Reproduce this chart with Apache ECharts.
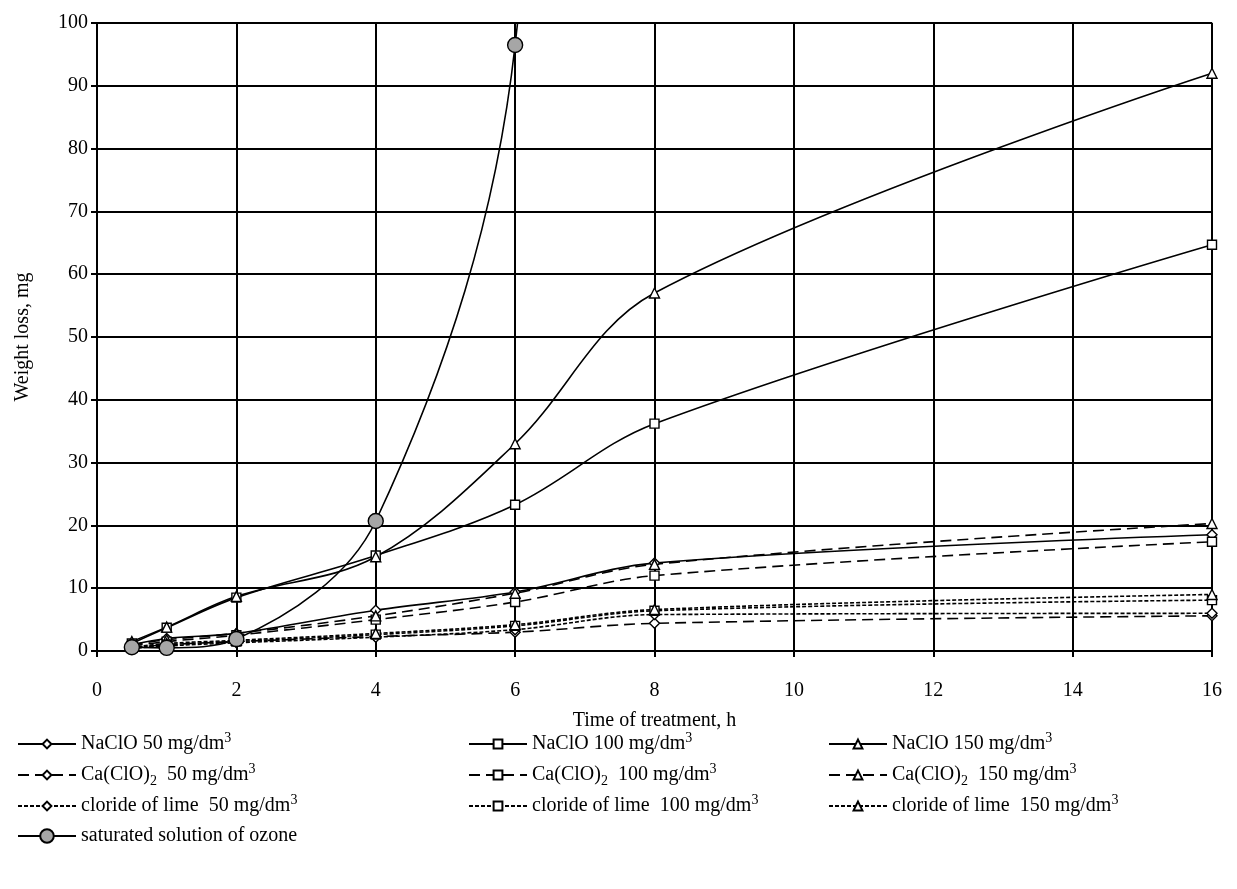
<!DOCTYPE html>
<html>
<head>
<meta charset="utf-8">
<script src="https://cdn.jsdelivr.net/npm/echarts@6/dist/echarts.min.js"></script>
<style>
html,body{margin:0;padding:0;background:#fff;}
#c{width:1237px;height:889px;}
</style>
</head>
<body>
<div id="c"></div>
<script>
// Data
const hours = [0.5, 1, 2, 4, 6, 8, 16];
const naclo50  = [1.0, 2.0, 2.8, 6.5, 9.4, 14.0, 18.5];
const naclo100 = [1.2, 3.7, 8.5, 15.2, 23.3, 36.2, 64.7];
const naclo150 = [1.5, 3.8, 8.7, 15.0, 33.0, 57.0, 92.0];
const ca50  = [0.5, 1.0, 1.5, 2.3, 3.0, 4.4, 5.6];
const ca100 = [0.8, 1.5, 2.5, 5.0, 7.8, 12.0, 17.4];
const ca150 = [1.0, 1.8, 2.8, 5.6, 9.2, 13.8, 20.3];
const lime50  = [0.4, 0.8, 1.3, 2.2, 3.4, 5.8, 6.0];
const lime100 = [0.5, 1.0, 1.5, 2.6, 4.0, 6.4, 8.1];
const lime150 = [0.6, 1.2, 1.7, 2.8, 4.2, 6.6, 9.0];
const ozoneHours = [0.5, 1, 2, 4, 6, 8];
const ozone = [0.6, 0.5, 1.9, 20.7, 96.5, 420];

const names = {
  n50: 'NaClO 50 mg/dm{sup|3}',
  n100: 'NaClO 100 mg/dm{sup|3}',
  n150: 'NaClO 150 mg/dm{sup|3}',
  c50: 'Ca(ClO){sub|2}  50 mg/dm{sup|3}',
  c100: 'Ca(ClO){sub|2}  100 mg/dm{sup|3}',
  c150: 'Ca(ClO){sub|2}  150 mg/dm{sup|3}',
  l50: 'cloride of lime  50 mg/dm{sup|3}',
  l100: 'cloride of lime  100 mg/dm{sup|3}',
  l150: 'cloride of lime  150 mg/dm{sup|3}',
  oz: 'saturated solution of ozone'
};

const FONT = '"Liberation Serif","DejaVu Serif",serif';

function pairs(xs, ys){ return xs.map((x,i)=>[x, ys[i]]); }

function mk(key, ys, dash, symbol, xs){
  return {
    name: key,
    type: 'line',
    smooth: 0.35,
    data: pairs(xs || hours, ys),
    symbol: symbol,
    symbolSize: symbol === 'triangle' ? 10 : (symbol === 'rect' ? 9 : 10),
    showAllSymbol: true,
    lineStyle: {color: '#000', width: 1.6, type: dash},
    itemStyle: {color: '#fff', borderColor: '#000', borderWidth: 1.4},
    emphasis: {disabled: true},
    z: 3
  };
}

const series = [
  mk('n50', naclo50, 'solid', 'diamond'),
  mk('n100', naclo100, 'solid', 'rect'),
  mk('n150', naclo150, 'solid', 'triangle'),
  mk('c50', ca50, [11,6], 'diamond'),
  mk('c100', ca100, [11,6], 'rect'),
  mk('c150', ca150, [11,6], 'triangle'),
  mk('l50', lime50, [4,2], 'diamond'),
  mk('l100', lime100, [4,2], 'rect'),
  mk('l150', lime150, [4,2], 'triangle'),
  Object.assign(mk('oz', ozone, 'solid', 'circle', ozoneHours), {
    symbolSize: 15,
    itemStyle: {color: '#a6a6a6', borderColor: '#000', borderWidth: 1.4},
    z: 4
  })
];

const legendText = {
  fontFamily: FONT, fontSize: 20, color: '#000', lineHeight: 26,
  rich: {
    sup: {fontFamily: FONT, fontSize: 14, verticalAlign: 'top', lineHeight: 14, color:'#000'},
    sub: {fontFamily: FONT, fontSize: 14, verticalAlign: 'bottom', lineHeight: 14, color:'#000'}
  }
};
function leg(left, top, data, h){
  return {
    left: left, top: top, orient: 'vertical', itemGap: 5,
    itemWidth: 58, itemHeight: h || 11,
    data: data, selectedMode: false,
    formatter: n => names[n],
    textStyle: legendText
  };
}

const chart = echarts.init(document.getElementById('c'), null, {renderer: 'canvas'});
chart.setOption({
  animation: false,
  backgroundColor: '#fff',
  grid: {left: 97, right: 25, top: 23, bottom: 238, show: true, borderColor: '#999', borderWidth: 1.5, backgroundColor: 'transparent'},
  xAxis: {
    type: 'value', min: 0, max: 16, interval: 2,
    name: 'Time of treatment, h', nameLocation: 'middle', nameGap: 60,
    nameTextStyle: {fontFamily: FONT, fontSize: 20, color: '#000'},
    axisLine: {show: true, lineStyle: {color: '#000', width: 2}},
    axisTick: {show: true, length: 6, lineStyle: {color: '#000', width: 2}},
    axisLabel: {fontFamily: FONT, fontSize: 20, color: '#000', margin: 30},
    splitLine: {show: true, lineStyle: {color: '#000', width: 2}}
  },
  yAxis: {
    type: 'value', min: 0, max: 100, interval: 10,
    name: 'Weight loss, mg', nameLocation: 'middle', nameGap: 64, nameRotate: 90,
    nameTextStyle: {fontFamily: FONT, fontSize: 20, color: '#000'},
    axisLine: {show: true, lineStyle: {color: '#000', width: 2}},
    axisTick: {show: true, length: 6, lineStyle: {color: '#000', width: 2}},
    axisLabel: {fontFamily: FONT, fontSize: 20, color: '#000', margin: 9},
    splitLine: {show: true, lineStyle: {color: '#000', width: 2}}
  },
  legend: [
    leg(12, 726, ['n50','c50','l50']),
    leg(12, 818, ['oz'], 17),
    leg(463, 726, ['n100','c100','l100']),
    leg(823, 726, ['n150','c150','l150'])
  ],
  series: series
});
</script>
</body>
</html>
